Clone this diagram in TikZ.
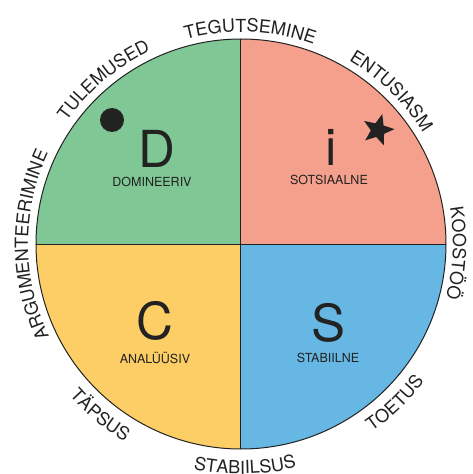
\documentclass[tikz,border=0pt]{standalone}
\usepackage{fontspec}
\setmainfont{TeX Gyre Heros}
\usetikzlibrary{decorations.text,shapes.geometric}
\definecolor{dgreen}{RGB}{127,199,148}
\definecolor{isalmon}{RGB}{244,160,140}
\definecolor{cyellow}{RGB}{253,206,102}
\definecolor{sblue}{RGB}{102,183,227}
\definecolor{ink}{RGB}{34,34,34}
\newcommand{\outerfont}{\fontsize{18}{18}\selectfont\color{ink}}
\newcommand{\toplabel}[3]{%
  \path[decorate,decoration={text along path,text={|\outerfont|#3},text align=center}]
    ({#1+45}:#2) arc[start angle={#1+45},end angle={#1-45},radius=#2];}
\newcommand{\botlabel}[3]{%
  \path[decorate,decoration={text along path,text={|\outerfont|#3},text align=center}]
    ({#1-45}:#2) arc[start angle={#1-45},end angle={#1+45},radius=#2];}
\begin{document}
\begin{tikzpicture}[x=1pt,y=1pt,
  bigletter/.style={font=\fontsize{51}{51}\selectfont, text=ink, inner sep=0pt},
  typelabel/.style={font=\fontsize{12.5}{12.5}\selectfont, text=ink, inner sep=0pt}]
\useasboundingbox (-241,-230) rectangle (231,244);
\clip (-241,-230) rectangle (231,244);
\def\R{205}
% quadrants
\fill[dgreen] (0,0) -- (180:\R) arc[start angle=180,end angle=90,radius=\R] -- cycle;
\fill[isalmon] (0,0) -- (90:\R) arc[start angle=90,end angle=0,radius=\R] -- cycle;
\fill[sblue] (0,0) -- (0:\R) arc[start angle=0,end angle=-90,radius=\R] -- cycle;
\fill[cyellow] (0,0) -- (-90:\R) arc[start angle=-90,end angle=-180,radius=\R] -- cycle;
\draw[ink, line width=1pt] (0,0) circle[radius=\R];
\draw[ink, line width=1pt] (90:\R) -- (-90:\R);
\draw[ink, line width=1pt] (180:\R) -- (0:\R);
% letters
\node[bigletter] (D) at (-84,95) {D};
\node[typelabel] (Dl) at (-89,62) {DOMINEERIV};
\node[bigletter] (I) at (90,97) {i};
\node[typelabel] (Il) at (88,64) {SOTSIAALNE};
\node[bigletter] (C) at (-86,-77) {C};
\node[typelabel] (Cl) at (-86,-114) {ANALÜÜSIV};
\node[bigletter] (S) at (88,-79) {S};
\node[typelabel] (Sl) at (87,-114) {STABIILNE};
% symbols
\node[circle, fill=ink, minimum size=24pt, inner sep=0pt] (dot) at (-129,124) {};
\node[star, star points=5, star point ratio=2.3, fill=ink, minimum size=33pt, inner sep=0pt, rotate=-15] (star) at (137,114) {};
% outer labels
\toplabel{87.5}{212}{TEGUTSEMINE}
\toplabel{130}{213}{TULEMUSED}
\toplabel{45.5}{213}{ENTUSIASM}
\toplabel{-2.5}{212}{KOOSTÖÖ}
\toplabel{180.3}{213}{ARGUMENTEERIMINE}
\botlabel{-46}{229}{TOETUS}
\botlabel{-89}{230}{STABIILSUS}
\botlabel{-129.5}{229}{TÄPSUS}
\end{tikzpicture}
\end{document}
